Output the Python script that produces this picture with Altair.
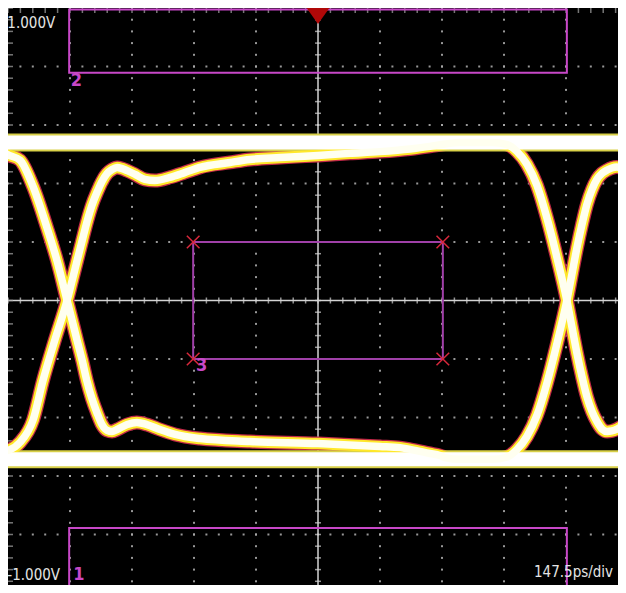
import altair as alt
import pandas as pd

# ---- screen: 147.5 ps/div horizontally, 0.2 V/div vertically, 10 x 10 divisions
X_MIN, X_MAX = -737.5, 732.7
Y_MIN, Y_MAX = -1.0, 1.0
PS_DIV, V_DIV = 147.5, 0.2

# ---- eye diagram traces (time in ps, level in V)
fallL_t = [-750, -740, -709, -678, -645, -621, -597]
fallL_v = [0.51, 0.50, 0.48, 0.39, 0.25, 0.137, 0.0]
riseL_t = [-750, -733, -709, -678, -654, -626, -597]
riseL_v = [-0.515, -0.51, -0.485, -0.409, -0.272, -0.135, 0.0]
upS_t = [-585, -573, -561, -550, -538, -526, -514, -502, -490, -478, -466, -454,
         -435, -412, -388, -352, -316, -281, -209, -162, -90, 0, 76, 147, 219,
         266, 302, 338]
upS_v = [0.068, 0.137, 0.205, 0.267, 0.325, 0.369, 0.407, 0.434, 0.448, 0.455,
         0.451, 0.444, 0.431, 0.414, 0.410, 0.421, 0.438, 0.455, 0.472, 0.482,
         0.489, 0.496, 0.503, 0.509, 0.518, 0.527, 0.535, 0.540]
loS_t = [-585, -573, -561, -550, -538, -526, -514, -502, -490, -478, -454, -431,
         -407, -376, -340, -281, -162, 0, 147, 195, 219, 266, 290, 302, 338]
loS_v = [-0.068, -0.137, -0.205, -0.274, -0.335, -0.383, -0.424, -0.444, -0.448,
         -0.441, -0.424, -0.417, -0.424, -0.441, -0.458, -0.472, -0.482, -0.489,
         -0.499, -0.503, -0.509, -0.523, -0.530, -0.537, -0.543]
edgeR_t = [414, 450, 473, 497, 521, 545, 569, 592]
fallR_v = [0.540, 0.533, 0.510, 0.466, 0.393, 0.280, 0.144, 0.0]
riseR_v = [-0.543, -0.535, -0.510, -0.465, -0.392, -0.280, -0.144, 0.0]
setR_t = [604, 616, 628, 640, 652, 664, 676, 688, 699, 711, 723, 737, 753]
upR_v = [0.09, 0.18, 0.26, 0.33, 0.38, 0.415, 0.435, 0.446, 0.453, 0.456, 0.452, 0.44, 0.43]
loR_v = [-0.09, -0.18, -0.26, -0.33, -0.38, -0.415, -0.44, -0.448, -0.446, -0.44, -0.43, -0.42, -0.41]
rail_t = [-750, 750]
top_rail_v = 0.540
bottom_rail_v = -0.543

# ---- overlay boxes and markers
box_names = ["2", "1", "3"]
box_t1 = [-592, -592, -297]
box_t2 = [592, 592, 297]
box_v1 = [0.779, -0.995, -0.2]
box_v2 = [0.995, -0.778, 0.2]
box_label_t = [-588, -582, -290]
box_label_v = [0.735, -0.955, -0.24]
mask_corner_t = [-297, 297, -297, 297]
mask_corner_v = [0.2, 0.2, -0.2, -0.2]
trigger_t = [0]
trigger_v = [0.973]
readouts = ["1.000V", "-1.000V", "147.5ps/div"]
readout_t = [-739, -739, 702]
readout_v = [0.932, -0.955, -0.945]
readout_align = ["left", "left", "right"]

# ---- tables
pathA = pd.DataFrame({"t": fallL_t + loS_t + edgeR_t + setR_t,
                      "v": fallL_v + loS_v + riseR_v + upR_v})
pathA["path"] = "A"
pathB = pd.DataFrame({"t": riseL_t + upS_t + edgeR_t + setR_t,
                      "v": riseL_v + upS_v + fallR_v + loR_v})
pathB["path"] = "B"
traces = pd.concat([pathA, pathB], ignore_index=True)
traces["i"] = traces.groupby("path").cumcount()

rails = pd.DataFrame({"t": rail_t + rail_t,
                      "v": [top_rail_v] * 2 + [bottom_rail_v] * 2,
                      "path": ["top", "top", "bot", "bot"]})

dots = []
for k in range(-4, 5):
    if k == 0:
        continue
    for j in range(-25, 26):
        dots.append({"t": k * PS_DIV, "v": j * V_DIV / 5})
        dots.append({"t": j * PS_DIV / 5, "v": k * V_DIV})
dots = pd.DataFrame(dots)

sub_t = [j * PS_DIV / 5 for j in range(-25, 26)]
sub_v = [j * V_DIV / 5 for j in range(-25, 26)]
tick_center_h = pd.DataFrame({"t": sub_t, "v": [0.0] * len(sub_t)})
tick_top = pd.DataFrame({"t": sub_t, "v": [Y_MAX] * len(sub_t)})
tick_bot = pd.DataFrame({"t": sub_t, "v": [Y_MIN] * len(sub_t)})
tick_center_v = pd.DataFrame({"t": [0.0] * len(sub_v), "v": sub_v})
tick_left = pd.DataFrame({"t": [X_MIN] * len(sub_v), "v": sub_v})
center_lines = pd.DataFrame({"t": [X_MIN, 0.0], "t2": [X_MAX, 0.0],
                             "v": [0.0, Y_MIN], "v2": [0.0, Y_MAX]})

boxes = pd.DataFrame({"name": box_names, "t": box_t1, "t2": box_t2,
                      "v": box_v1, "v2": box_v2})
box_lab = pd.DataFrame({"name": box_names, "t": box_label_t, "v": box_label_v})
corners = pd.DataFrame({"t": mask_corner_t, "v": mask_corner_v})
trig = pd.DataFrame({"t": trigger_t, "v": trigger_v})
texts = pd.DataFrame({"label": readouts, "t": readout_t, "v": readout_v,
                      "align": readout_align})

X = alt.X("t:Q", scale=alt.Scale(domain=[X_MIN, X_MAX], nice=False, zero=False), axis=None)
Y = alt.Y("v:Q", scale=alt.Scale(domain=[Y_MIN, Y_MAX], nice=False, zero=False), axis=None)
GRID = "#a8a8a8"
FONT = "Liberation Sans Narrow, DejaVu Sans Condensed, Arial Narrow, sans-serif"

grid_dots = alt.Chart(dots).mark_square(size=4, color=GRID, opacity=0.9).encode(x=X, y=Y)
centers = alt.Chart(center_lines).mark_rule(color="#d4d4d4", strokeWidth=1.5).encode(
    x=X, x2="t2:Q", y=Y, y2="v2:Q")


def ticks(df, orient, size, color, clip=False):
    return alt.Chart(df).mark_tick(orient=orient, size=size, thickness=1.5,
                                   color=color, clip=clip).encode(x=X, y=Y)


box_rects = alt.Chart(boxes).mark_rect(fillOpacity=0, strokeWidth=2, clip=True).encode(
    x=X, x2="t2:Q", y=Y, y2="v2:Q",
    stroke=alt.Stroke("name:N", scale=alt.Scale(domain=box_names,
                                                range=["#c848c8", "#c848c8", "#a040a8"]),
                      legend=None))
box_labels = alt.Chart(box_lab).mark_text(align="left", baseline="alphabetic", fontSize=18,
                                          fontWeight="bold", font=FONT,
                                          color="#c848c8").encode(x=X, y=Y, text="name:N")
corner_marks = alt.Chart(corners).mark_point(shape="M-1,-1L1,1M-1,1L1,-1", size=160,
                                             strokeWidth=1.5, color="#d8283c",
                                             opacity=1).encode(x=X, y=Y)


def trace_layer(width, color):
    return alt.Chart(traces).mark_line(strokeWidth=width, color=color, clip=True,
                                       strokeJoin="round", strokeCap="round",
                                       interpolate="monotone").encode(
        x=X, y=Y, detail="path:N", order="i:Q")


def rail_layer(width, color):
    return alt.Chart(rails).mark_line(strokeWidth=width, color=color, clip=True).encode(
        x=X, y=Y, detail="path:N")


trig_mark = alt.Chart(trig).mark_point(shape="M-1,-0.7L1,-0.7L0,0.7Z", size=529,
                                       filled=True, color="#b00808", opacity=1).encode(x=X, y=Y)
text_left = alt.Chart(texts[texts["align"] == "left"]).mark_text(
    align="left", baseline="alphabetic", fontSize=15, font=FONT, color="#e4e4e4").encode(
    x=X, y=Y, text="label:N")
text_right = alt.Chart(texts[texts["align"] == "right"]).mark_text(
    align="right", baseline="alphabetic", fontSize=15, font=FONT, color="#e4e4e4").encode(
    x=X, y=Y, text="label:N")

chart = alt.layer(
    grid_dots, centers,
    ticks(tick_center_h, "vertical", 6, "#d4d4d4"),
    ticks(tick_center_v, "horizontal", 6, "#d4d4d4"),
    ticks(tick_top, "vertical", 10, GRID, True),
    ticks(tick_bot, "vertical", 10, GRID, True),
    ticks(tick_left, "horizontal", 10, GRID, True),
    box_rects, corner_marks, box_labels,
    trace_layer(14, "#c02848"),
    rail_layer(18, "#d8d048"),
    trace_layer(11.5, "#ffe82a"),
    rail_layer(14, "#ffffff"),
    trace_layer(7.5, "#fffff0"),
    trig_mark, text_left, text_right,
).properties(
    width=618, height=585,
    padding={"left": 0, "top": 0, "right": -8, "bottom": -8},
    autosize=alt.AutoSizeParams(type="none"),
    background="white",
).configure_view(fill="black", stroke=None)

chart.save("out.html", embed_options={"renderer": "svg", "actions": False})
